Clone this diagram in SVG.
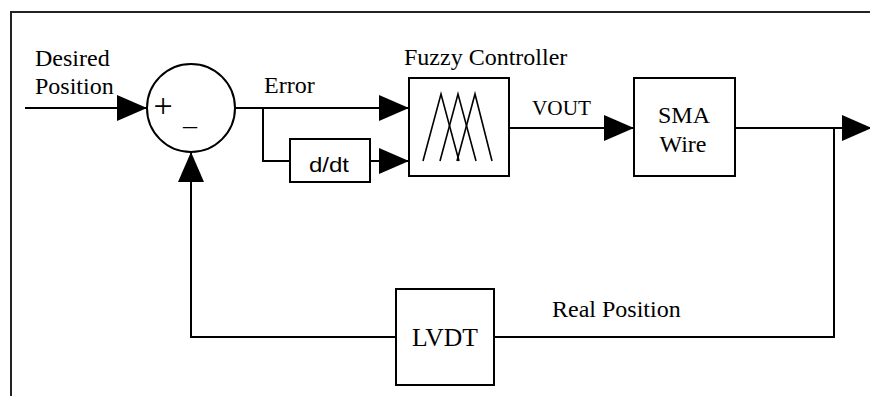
<svg xmlns="http://www.w3.org/2000/svg" width="870" height="396" viewBox="0 0 870 396">
<style>
.ln{fill:none;stroke:#000;stroke-width:2}
.bx{fill:#fff;stroke:#000;stroke-width:2}
.fz{fill:none;stroke:#000;stroke-width:1.6}
.t{font-family:"Liberation Serif","Times New Roman",serif;font-size:24px;fill:#000}
.m{font-family:"Liberation Serif","Times New Roman",serif;fill:#000}
.s{font-family:"Liberation Sans",Arial,sans-serif;fill:#000}
</style>
<defs>
<marker id="arr" markerUnits="userSpaceOnUse" viewBox="0 0 30 26" refX="30" refY="13" markerWidth="30" markerHeight="26" orient="auto">
<path d="M0,0 L30,13 L0,26 Z" fill="#000"/>
</marker>
</defs>
<rect width="870" height="396" fill="#fff"/>
<g id="frame">
<path d="M11,396 V12 H870" fill="none" stroke="#222" stroke-width="2"/>
</g>
<g id="connectors">
<line class="ln" x1="25" y1="108" x2="147" y2="108" marker-end="url(#arr)"/>
<line class="ln" x1="235" y1="108" x2="409" y2="108" marker-end="url(#arr)"/>
<polyline class="ln" points="263,108 263,161 290,161"/>
<line class="ln" x1="370" y1="161" x2="409" y2="161" marker-end="url(#arr)"/>
<line class="ln" x1="509" y1="128" x2="634" y2="128" marker-end="url(#arr)"/>
<line class="ln" x1="735" y1="128" x2="872" y2="128" marker-end="url(#arr)"/>
<polyline class="ln" points="834,128 834,337 494,337"/>
<polyline class="ln" points="396,337 191,337 191,152" marker-end="url(#arr)"/>
</g>
<g id="sum">
<circle cx="191" cy="108" r="44" class="bx"/>
<text x="163" y="117" text-anchor="middle" class="t" style="font-size:34px">+</text>
<text x="190" y="134" text-anchor="middle" class="t" style="font-size:28px">–</text>
</g>
<g id="ddt">
<rect x="290" y="139" width="80" height="43" class="bx"/>
<text x="329" y="172" text-anchor="middle" class="s" font-size="20" textLength="40" lengthAdjust="spacingAndGlyphs">d/dt</text>
</g>
<g id="fuzzy">
<rect x="409" y="78" width="100" height="98" class="bx"/>
<polyline class="fz" points="423,161 441,94 459,161"/>
<polyline class="fz" points="440,161 458,94 476,161"/>
<polyline class="fz" points="457,161 475,94 492,161"/>
</g>
<g id="sma">
<rect x="634" y="78" width="101" height="98" class="bx"/>
<text x="684" y="123" text-anchor="middle" class="t">SMA</text>
<text x="683" y="152" text-anchor="middle" class="t">Wire</text>
</g>
<g id="lvdt">
<rect x="396" y="289" width="98" height="96" class="bx"/>
<text x="445" y="346" text-anchor="middle" class="m" font-size="25" textLength="66" lengthAdjust="spacingAndGlyphs">LVDT</text>
</g>
<g id="labels">
<text x="35" y="66" class="t">Desired</text>
<text x="35" y="94" class="t">Position</text>
<text x="264" y="93" class="t">Error</text>
<text x="404" y="65" class="t">Fuzzy Controller</text>
<text x="532" y="115" class="m" font-size="21" textLength="59" lengthAdjust="spacingAndGlyphs">VOUT</text>
<text x="552" y="317" class="t">Real Position</text>
</g>
</svg>
